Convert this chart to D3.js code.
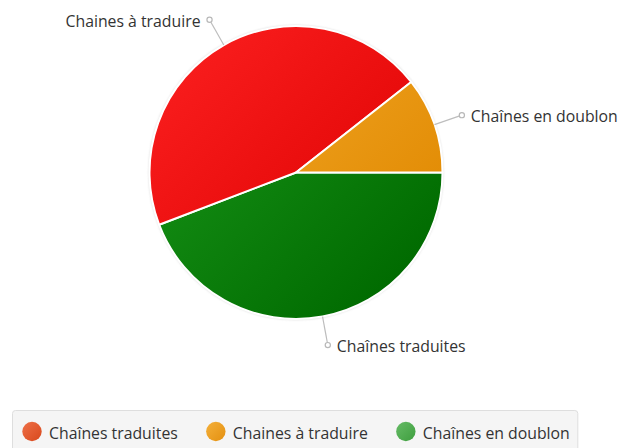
<!DOCTYPE html>
<html>
<head>
<meta charset="utf-8">
<script src="https://cdn.jsdelivr.net/npm/d3@7"></script>
<style>
  body { margin: 0; background: #fff; }
  svg { display: block; }
</style>
</head>
<body>
<svg id="chart" width="619" height="448"></svg>
<script>
// Slice data (clockwise from 3 o'clock)
const categories = ["Chaînes traduites", "Chaines à traduire", "Chaînes en doublon"];
const values = [44.2, 45.2, 10.6];
const sliceLight = ["#189418", "#f81c1c", "#f2a828"];
const sliceDark = ["#006a00", "#dc0000", "#e08800"];

// Legend entries
const legendLabels = ["Chaînes traduites", "Chaines à traduire", "Chaînes en doublon"];
const legendLight = ["#ee7048", "#f4b03a", "#66bb66"];
const legendDark = ["#d8481c", "#e49010", "#3e9e3e"];

const W = 619, H = 448;
const cx = 296, cy = 172.5, R = 146.5;
const FONT = "'Open Sans', 'Noto Sans', sans-serif";
const FS = 15.8;

const svg = d3.select("#chart");
const defs = svg.append("defs");

// gradients are expressed in the pie group's local (centred) coordinates
sliceLight.forEach((c, i) => {
  const g = defs.append("linearGradient")
    .attr("id", "slice-grad-" + i)
    .attr("gradientUnits", "userSpaceOnUse")
    .attr("x1", -R * 0.75).attr("y1", -R * 0.75)
    .attr("x2", R * 0.75).attr("y2", R * 0.75);
  g.append("stop").attr("offset", "0%").attr("stop-color", c);
  g.append("stop").attr("offset", "100%").attr("stop-color", sliceDark[i]);
});

legendLight.forEach((c, i) => {
  const g = defs.append("linearGradient")
    .attr("id", "legend-grad-" + i)
    .attr("x1", "0").attr("y1", "0").attr("x2", "1").attr("y2", "1");
  g.append("stop").attr("offset", "0%").attr("stop-color", c);
  g.append("stop").attr("offset", "100%").attr("stop-color", legendDark[i]);
});

const shadow = defs.append("filter").attr("id", "pie-shadow")
  .attr("x", "-10%").attr("y", "-10%").attr("width", "120%").attr("height", "120%");
shadow.append("feGaussianBlur").attr("stdDeviation", 1);

const pie = d3.pie().sort(null)
  .startAngle(Math.PI / 2)
  .endAngle(Math.PI / 2 + 2 * Math.PI);
const arcs = pie(values);
const arc = d3.arc().innerRadius(0).outerRadius(R);

const gPie = svg.append("g").attr("transform", `translate(${cx},${cy})`);

// soft edge under the pie
gPie.append("circle").attr("r", R + 0.8)
  .attr("fill", "#c8c8c8").attr("filter", "url(#pie-shadow)").attr("opacity", 0.7);

gPie.selectAll("path.slice").data(arcs).join("path")
  .attr("class", "slice")
  .attr("d", arc)
  .attr("fill", (d, i) => `url(#slice-grad-${i})`)
  .attr("stroke", "#fff")
  .attr("stroke-width", 2)
  .attr("stroke-linejoin", "round");

// Outside labels with connectors
const connLen = 29;
const gLab = svg.append("g");
arcs.forEach((d, i) => {
  const a = (d.startAngle + d.endAngle) / 2;
  const sx = Math.sin(a), sy = -Math.cos(a);
  const x0 = cx + R * sx, y0 = cy + R * sy;
  const x1 = cx + (R + connLen) * sx, y1 = cy + (R + connLen) * sy;
  gLab.append("line")
    .attr("x1", x0).attr("y1", y0).attr("x2", x1).attr("y2", y1)
    .attr("stroke", "#bdbdbd").attr("stroke-width", 1.2);
  gLab.append("circle")
    .attr("cx", x1).attr("cy", y1).attr("r", 2.6)
    .attr("fill", "#fff").attr("stroke", "#b8b8b8").attr("stroke-width", 1.2);
  const right = sx >= 0;
  gLab.append("text")
    .attr("x", x1 + (right ? 9 : -9))
    .attr("y", y1 + 1)
    .attr("dominant-baseline", "central")
    .attr("text-anchor", right ? "start" : "end")
    .attr("font-family", FONT)
    .attr("font-size", FS)
    .attr("fill", "#333")
    .text(categories[i]);
});

// Legend
const gLeg = svg.append("g");
const legBox = gLeg.append("rect")
  .attr("x", 12.5).attr("y", 410.5).attr("height", 60).attr("rx", 3)
  .attr("fill", "#f5f5f5").attr("stroke", "#dedede");
let lx = 22;
const ly = 431.5;
legendLabels.forEach((lab, i) => {
  gLeg.append("circle")
    .attr("cx", lx + 10).attr("cy", ly).attr("r", 9.7)
    .attr("fill", `url(#legend-grad-${i})`);
  const t = gLeg.append("text")
    .attr("x", lx + 27).attr("y", ly + 1)
    .attr("dominant-baseline", "central")
    .attr("font-family", FONT)
    .attr("font-size", FS)
    .attr("fill", "#333")
    .text(lab);
  const w = t.node().getComputedTextLength();
  lx = lx + 27 + w + (i === legendLabels.length - 1 ? 0 : 28);
});
legBox.attr("width", lx + 8 - 12.5);
</script>
</body>
</html>
